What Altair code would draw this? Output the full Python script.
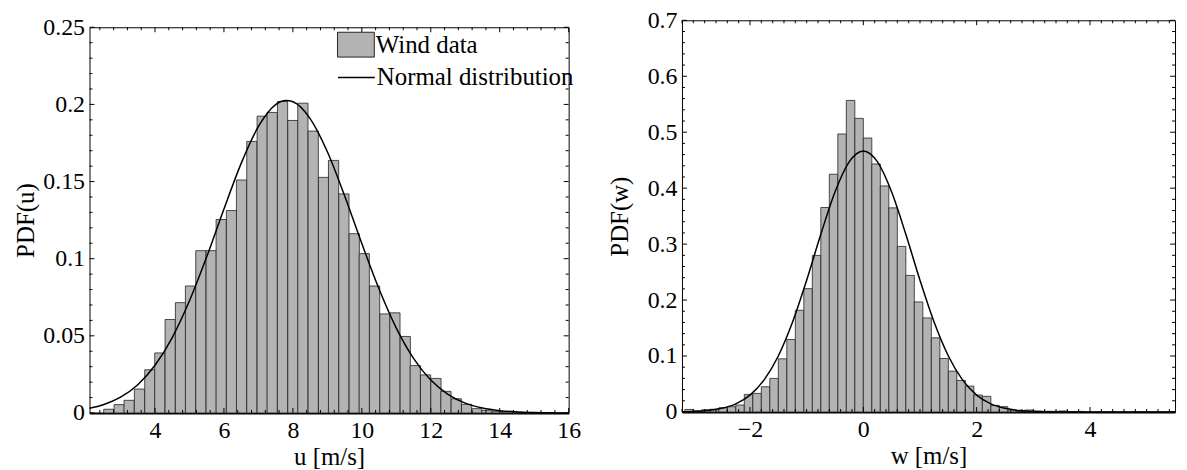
import altair as alt
import pandas as pd

# ---------------- Left panel: u ----------------
u_centers = [2.66, 2.96, 3.25, 3.55, 3.85, 4.14, 4.44, 4.74, 5.03, 5.33, 5.63, 5.92, 6.22,
             6.51, 6.81, 7.11, 7.40, 7.70, 8.00, 8.29, 8.59, 8.89, 9.18, 9.48, 9.78, 10.07,
             10.37, 10.67, 10.96, 11.26, 11.55, 11.85, 12.15, 12.44, 12.74, 13.04, 13.33,
             13.63, 13.93, 14.22, 14.52, 14.82, 15.11, 15.41]
u_pdf = [0.0024, 0.0054, 0.0082, 0.0155, 0.0280, 0.0389, 0.0606, 0.0715, 0.0823, 0.1052,
         0.1052, 0.1254, 0.1312, 0.1510, 0.1760, 0.1924, 0.1948, 0.2019, 0.1896, 0.2008,
         0.1827, 0.1527, 0.1637, 0.1420, 0.1162, 0.1033, 0.0823, 0.0642, 0.0649, 0.0496,
         0.0307, 0.0247, 0.0224, 0.0140, 0.0092, 0.0056, 0.0028, 0.0017, 0.0011, 0.0008,
         0.0006, 0.0004, 0.0002, 0.0001]
u_bin_width = 0.2965
u_fit_x = [2.1, 2.5, 3.0, 3.5, 4.0, 4.5, 5.0, 5.5, 6.0, 6.5, 7.0, 7.5, 7.8, 8.0, 8.5, 9.0,
           9.5, 10.0, 10.5, 11.0, 11.5, 12.0, 12.5, 13.0, 13.5, 14.0, 14.5, 15.0, 15.5, 16.0]
u_fit_y = [0.0030, 0.0053, 0.0102, 0.0183, 0.0309, 0.0489, 0.0727, 0.1012, 0.1322, 0.1618,
           0.1857, 0.1999, 0.2025, 0.2017, 0.1908, 0.1693, 0.1408, 0.1098, 0.0803, 0.0550,
           0.0354, 0.0213, 0.0121, 0.0064, 0.0032, 0.0015, 0.0007, 0.0003, 0.0001, 0.0000]
u_ticks = [4, 6, 8, 10, 12, 14, 16]
u_pdf_ticks = [0, 0.05, 0.1, 0.15, 0.2, 0.25]

# ---------------- Right panel: w ----------------
w_centers = [-3.075, -2.925, -2.775, -2.625, -2.475, -2.325, -2.175, -2.025, -1.875, -1.725,
             -1.575, -1.425, -1.275, -1.125, -0.975, -0.825, -0.675, -0.525, -0.375, -0.225,
             -0.075, 0.075, 0.225, 0.375, 0.525, 0.675, 0.825, 0.975, 1.125, 1.275, 1.425,
             1.575, 1.725, 1.875, 2.025, 2.175, 2.325, 2.475, 2.625, 2.775, 2.925, 3.075,
             3.225, 3.375, 3.525, 3.675, 3.825]
w_pdf = [0.0045, 0.0020, 0.0040, 0.0050, 0.0075, 0.0094, 0.0124, 0.0314, 0.0332, 0.0451,
         0.0600, 0.0950, 0.1295, 0.1818, 0.2204, 0.2798, 0.3654, 0.4249, 0.4968, 0.5568,
         0.5247, 0.4896, 0.4433, 0.4040, 0.3648, 0.2959, 0.2440, 0.1967, 0.1681, 0.1325,
         0.0956, 0.0730, 0.0564, 0.0463, 0.0303, 0.0279, 0.0118, 0.0095, 0.0035, 0.0011,
         0.0035, 0.0018, 0.0012, 0.0012, 0.0018, 0.0006, 0.0010]
w_bin_width = 0.15
w_fit_x = [-3.2, -3.0, -2.75, -2.5, -2.25, -2.0, -1.75, -1.5, -1.25, -1.0, -0.75, -0.5, -0.25,
           0.0, 0.25, 0.5, 0.75, 1.0, 1.25, 1.5, 1.75, 2.0, 2.25, 2.5, 2.75, 3.0, 3.5, 4.0,
           4.5, 5.0, 5.5]
w_fit_y = [0.0004, 0.0010, 0.0026, 0.0065, 0.0146, 0.0302, 0.0574, 0.1001, 0.1602, 0.2354,
           0.3175, 0.3932, 0.4470, 0.4665, 0.4470, 0.3932, 0.3175, 0.2354, 0.1602, 0.1001,
           0.0574, 0.0302, 0.0146, 0.0065, 0.0026, 0.0010, 0.0001, 0.0000, 0.0, 0.0, 0.0]
w_ticks = [-2, 0, 2, 4]
w_pdf_ticks = [0, 0.1, 0.2, 0.3, 0.4, 0.5, 0.6, 0.7]

FONT = "Liberation Serif"
BAR_FILL = "#b3b3b3"
AX_STYLE = dict(labelFont=FONT, labelFontSize=24, labelColor="black", titleFont=FONT,
                titleFontSize=25, titleFontWeight="normal", titleColor="black", ticks=False,
                tickSize=0, grid=False, labelFlush=False)


def minor(lo, hi, step, majors):
    out = []
    k = int(round(lo / step)) - 1
    while k * step <= hi + 1e-9:
        v = round(k * step, 6)
        if lo - 1e-9 <= v <= hi + 1e-9 and all(abs(v - m) > 1e-9 for m in majors):
            out.append(v)
        k += 1
    return out


def spacer(w, h):
    return alt.Chart(pd.DataFrame({"s": [0]})).mark_rect(opacity=0).encode(
        x=alt.value(0), x2=alt.value(1), y=alt.value(0), y2=alt.value(1)
    ).properties(width=w, height=h, view=alt.ViewBackground(stroke="transparent"))


def panel(centers, pdf, bw, fit_x, fit_y, xdom, ydom, xticks, yticks, xminor_step,
          yminor_step, xtitle, ytitle, yfmt, W, H, legend, ytitle_pad):
    bars = pd.DataFrame({"c": centers, "p": pdf})
    bars["lo"] = bars["c"] - bw / 2
    bars["hi"] = bars["c"] + bw / 2
    bars["series"] = "Wind data"
    fit = pd.DataFrame({"x": fit_x, "y": fit_y, "series": "Normal distribution"})

    xs = alt.Scale(domain=xdom, nice=False, zero=False)
    ys = alt.Scale(domain=ydom, nice=False, zero=False)
    xax = alt.Axis(values=xticks, title=xtitle, labelPadding=6, titlePadding=2, domain=True,
                   domainColor="black", domainWidth=2, **AX_STYLE)
    yax = alt.Axis(values=yticks, title=ytitle, format=yfmt, labelPadding=5,
                   titlePadding=ytitle_pad, domain=False, **AX_STYLE)

    if legend:
        fill_legend = alt.Legend(orient="none", legendX=249, legendY=20.5, title=None,
                                 symbolType="M-1,-0.675H1V0.675H-1Z", symbolSize=1369,
                                 symbolStrokeColor="#222222", symbolStrokeWidth=1,
                                 symbolOpacity=1, labelOffset=1, padding=0, labelLimit=0,
                                 labelFont=FONT, labelFontSize=25, labelColor="black")
        stroke_legend = alt.Legend(orient="none", legendX=249, legendY=53, title=None,
                                   symbolType="stroke", symbolSize=1369,
                                   symbolStrokeWidth=1.5, labelOffset=1, padding=0,
                                   labelLimit=0,
                                   labelFont=FONT, labelFontSize=25, labelColor="black")
    else:
        fill_legend = None
        stroke_legend = None

    fill_enc = alt.Fill("series:N", scale=alt.Scale(domain=["Wind data"], range=[BAR_FILL]),
                        legend=fill_legend)
    stroke_enc = alt.Stroke("series:N",
                            scale=alt.Scale(domain=["Normal distribution"], range=["black"]),
                            legend=stroke_legend)

    bar_layer = alt.Chart(bars).mark_bar(stroke="#222222", strokeWidth=0.8, opacity=1).encode(
        x=alt.X("lo:Q", scale=xs, axis=xax),
        x2="hi:Q",
        y=alt.Y("p:Q", scale=ys, axis=yax),
        y2=alt.datum(0),
        fill=fill_enc,
    )
    line_layer = alt.Chart(fit).mark_line(strokeWidth=1.5, interpolate="monotone").encode(
        x=alt.X("x:Q", scale=xs, axis=xax), y=alt.Y("y:Q", scale=ys, axis=yax),
        stroke=stroke_enc)

    layers = [bar_layer, line_layer]
    xmin_vals = minor(xdom[0], xdom[1], xminor_step, xticks)
    ymin_vals = minor(ydom[0], ydom[1], yminor_step, yticks)
    xmaj_vals = [v for v in xticks if xdom[0] <= v <= xdom[1]]
    for vals, L in ((xmaj_vals, 5), (xmin_vals, 3)):
        d = alt.Chart(pd.DataFrame({"v": vals}))
        layers.append(d.mark_rule(color="black", strokeWidth=1).encode(
            x=alt.X("v:Q", scale=xs, axis=xax), y=alt.value(H), y2=alt.value(H - L)))
        layers.append(d.mark_rule(color="black", strokeWidth=1).encode(
            x=alt.X("v:Q", scale=xs, axis=xax), y=alt.value(0), y2=alt.value(L)))
    for vals, L in ((yticks, 5), (ymin_vals, 3)):
        d = alt.Chart(pd.DataFrame({"v": vals}))
        layers.append(d.mark_rule(color="black", strokeWidth=1).encode(
            y=alt.Y("v:Q", scale=ys, axis=yax), x=alt.value(0), x2=alt.value(L)))
        layers.append(d.mark_rule(color="black", strokeWidth=1).encode(
            y=alt.Y("v:Q", scale=ys, axis=yax), x=alt.value(W), x2=alt.value(W - L)))
    return alt.layer(*layers).properties(width=W, height=H)


left = panel(u_centers, u_pdf, u_bin_width, u_fit_x, u_fit_y, [2.1, 16.0], [0, 0.25],
             u_ticks, u_pdf_ticks, 0.4, 0.01, "u [m/s]", "PDF(u)", ".2~f", 482, 388, True, 4)
right = panel(w_centers, w_pdf, w_bin_width, w_fit_x, w_fit_y, [-3.2, 5.5], [0, 0.7],
              w_ticks, w_pdf_ticks, 0.2, 0.02, "w [m/s]", "PDF(w)", ".1~f", 496, 394, False, 15)

left_col = alt.vconcat(spacer(482, 8), left, spacing=0)
right_col = alt.vconcat(spacer(496, 1), right, spacing=0)

chart = alt.hconcat(left_col, right_col, spacing=25).properties(
    padding={"left": 5, "top": -5, "right": 0, "bottom": 0}, background="white"
).configure_view(stroke="black", strokeWidth=1)

chart.save("out.html", embed_options={"renderer": "svg", "actions": False})
